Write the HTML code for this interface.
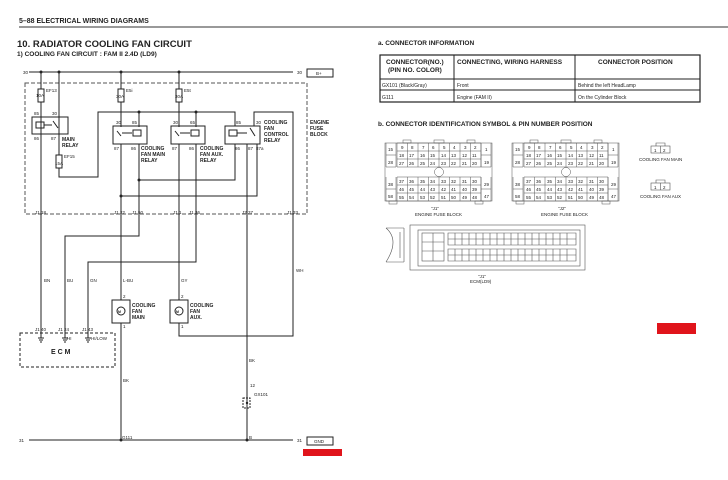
<!DOCTYPE html>
<html><head><meta charset="utf-8"><style>
html,body{margin:0;padding:0;background:#fff}
svg{display:block}
text{font-family:"Liberation Sans",sans-serif;fill:#222}
.b{font-weight:bold}
</style></head><body>
<svg width="728" height="480" viewBox="0 0 728 480" xmlns="http://www.w3.org/2000/svg">
<defs>
<g id="cb" stroke="#555" stroke-width="0.5" fill="none">
<rect x="0" y="3" width="107" height="58"/>
<rect x="18" y="0" width="8" height="3"/><rect x="49" y="0" width="10" height="3"/><rect x="82" y="0" width="8" height="3"/>
<rect x="4" y="61" width="8" height="3"/><rect x="90" y="61" width="8" height="3"/>
<path d="M1 3V27H11V3M96 3V27H106V3M1 15H11M96 15H106M1 37V61H11V37M96 37V61H106V37M1 49H11M96 49H106"/>
<path d="M12 3H96V27H12ZM12 11H96M12 19H96M12 37H96V61H12ZM12 45H96M12 53H96"/>
<path d="M22.5 3V27M33 3V27M43.5 3V27M54 3V27M64.5 3V27M75 3V27M85.5 3V27M22.5 37V61M33 37V61M43.5 37V61M54 37V61M64.5 37V61M75 37V61M85.5 37V61"/>
<circle cx="54" cy="32" r="4.5"/>
<g font-size="4.5" fill="#444" stroke="none">
<text x="3" y="11">15</text><text x="3" y="24">28</text><text x="100" y="11">1</text><text x="99" y="24">19</text>
<text x="3" y="46">38</text><text x="3" y="58">58</text><text x="99" y="46">29</text><text x="99" y="58">47</text>
<text x="16" y="9">9</text><text x="26" y="9">8</text><text x="37" y="9">7</text><text x="47" y="9">6</text><text x="58" y="9">5</text><text x="68" y="9">4</text><text x="79" y="9">3</text><text x="89" y="9">2</text>
<text x="14" y="17">18</text><text x="24" y="17">17</text><text x="35" y="17">16</text><text x="45" y="17">15</text><text x="56" y="17">14</text><text x="66" y="17">13</text><text x="77" y="17">12</text><text x="87" y="17">11</text>
<text x="14" y="25">27</text><text x="24" y="25">26</text><text x="35" y="25">25</text><text x="45" y="25">24</text><text x="56" y="25">23</text><text x="66" y="25">22</text><text x="77" y="25">21</text><text x="87" y="25">20</text>
<text x="14" y="43">37</text><text x="24" y="43">36</text><text x="35" y="43">35</text><text x="45" y="43">34</text><text x="56" y="43">33</text><text x="66" y="43">32</text><text x="77" y="43">31</text><text x="87" y="43">30</text>
<text x="14" y="51">46</text><text x="24" y="51">45</text><text x="35" y="51">44</text><text x="45" y="51">43</text><text x="56" y="51">42</text><text x="66" y="51">41</text><text x="77" y="51">40</text><text x="87" y="51">39</text>
<text x="14" y="59">55</text><text x="24" y="59">54</text><text x="35" y="59">53</text><text x="45" y="59">52</text><text x="56" y="59">51</text><text x="66" y="59">50</text><text x="77" y="59">49</text><text x="87" y="59">48</text>
</g></g>
</defs>

<text x="19" y="23" font-size="7" class="b">5–88  ELECTRICAL WIRING DIAGRAMS</text>
<line x1="19" y1="27" x2="728" y2="27" stroke="#333" stroke-width="1"/>
<text x="17" y="47" font-size="9.5" class="b">10. RADIATOR COOLING FAN CIRCUIT</text>
<text x="17" y="56" font-size="6.5" class="b">1) COOLING FAN CIRCUIT : FAM II 2.4D (LD9)</text>

<g stroke="#222" stroke-width="1" fill="none">
<line x1="29" y1="72" x2="293" y2="72"/>
<rect x="307" y="69" width="26" height="8"/>
<rect x="25" y="83" width="282" height="131" stroke-dasharray="4,2" stroke="#555"/>
<path d="M41 72V330M59 72V125M121 72V127M179 72V127"/>
<rect x="38" y="89" width="6" height="13" fill="#fff"/>
<rect x="118" y="89" width="6" height="13" fill="#fff"/>
<rect x="176" y="89" width="6" height="13" fill="#fff"/>
<rect x="56" y="155" width="6" height="13" fill="#fff"/>
<rect x="32" y="117" width="36" height="17"/>
<rect x="36" y="122" width="8" height="6"/>
<path d="M44 125H52M53 121L58 128M59 125V155M59 168V177H98V112H235V126"/>
<rect x="113" y="126" width="34" height="18"/>
<rect x="133" y="130" width="8" height="6"/>
<path d="M117 131L121 136M122 133H132M139 112V127M139 144V236H65V330M139 180H235V144M121 144V300"/>
<rect x="171" y="126" width="34" height="18"/>
<rect x="191" y="130" width="8" height="6"/>
<path d="M175 131L179 136M180 133H190M196 112V127M196 144V262H88V330M179 144V300"/>
<rect x="225" y="126" width="35" height="18"/>
<rect x="229" y="130" width="8" height="6"/>
<path d="M237 133H247M250 128L255 136M254 126V112H293V336H179V323M247 144V440M121 196H257V144"/>
<path d="M121 323V440"/>
<rect x="112" y="300" width="18" height="23"/>
<circle cx="121" cy="311" r="4"/>
<rect x="170" y="300" width="18" height="23"/>
<circle cx="179" cy="311" r="4"/>
<rect x="20" y="333" width="95" height="34" stroke-dasharray="3,2"/>
<path d="M41 330V338M38 338H44M39 340H43M40 342H42M65 330V338M62 338H68M63 340H67M64 342H66M88 330V338M85 338H91M86 340H90M87 342H89"/>
<rect x="243" y="398" width="7" height="10" stroke-dasharray="2,1"/>
<line x1="29" y1="440" x2="293" y2="440"/>
<rect x="307" y="437" width="26" height="8"/>
</g>
<g fill="#222">
<circle cx="41" cy="72" r="1.5"/><circle cx="59" cy="72" r="1.5"/><circle cx="121" cy="72" r="1.5"/><circle cx="179" cy="72" r="1.5"/>
<circle cx="139" cy="112" r="1.5"/><circle cx="196" cy="112" r="1.5"/><circle cx="139" cy="180" r="1.5"/><circle cx="121" cy="196" r="1.5"/>
<circle cx="121" cy="440" r="1.5"/><circle cx="247" cy="440" r="1.5"/><circle cx="247" cy="403" r="1.2"/>
</g>
<rect x="303" y="449" width="39" height="7" fill="#e0141b"/>

<g font-size="4.5">
<text x="23" y="74">30</text><text x="297" y="74">30</text><text x="316" y="75">B+</text>
<text x="46" y="92">EF13</text><text x="36" y="97">10A</text>
<text x="126" y="92">E5i</text><text x="116" y="98">30A</text>
<text x="184" y="92">E5t</text><text x="175" y="98">30A</text>
<text x="64" y="158">EF15</text><text x="55" y="165">15A</text>
<text x="34" y="115">85</text><text x="52" y="115">30</text><text x="34" y="140">86</text><text x="51" y="140">87</text>
<text x="116" y="124">30</text><text x="132" y="124">85</text><text x="114" y="150">87</text><text x="131" y="150">86</text>
<text x="173" y="124">30</text><text x="190" y="124">65</text><text x="172" y="150">87</text><text x="189" y="150">86</text>
<text x="236" y="124">85</text><text x="256" y="124">30</text><text x="235" y="150">86</text><text x="248" y="150">87</text><text x="256" y="150">87a</text>
<text x="35" y="214">J1 18</text><text x="114" y="214">J1 22</text><text x="132" y="214">J1 50</text><text x="173" y="214">J1 1</text><text x="189" y="214">J1 36</text><text x="242" y="214">J2 37</text><text x="287" y="214">J1 33</text>
<text x="44" y="282">BN</text><text x="67" y="282">BU</text><text x="90" y="282">GN</text><text x="123" y="282">L-BU</text><text x="181" y="282">GY</text><text x="296" y="272">WH</text>
<text x="123" y="298">2</text><text x="123" y="328">1</text><text x="181" y="298">2</text><text x="181" y="328">1</text>
<text x="35" y="331">J1 40</text><text x="58" y="331">J1 24</text><text x="82" y="331">J1 43</text><text x="67" y="340">HI</text><text x="91" y="340">HI/LOW</text>
<text x="249" y="362">BK</text><text x="123" y="382">BK</text>
<text x="250" y="387">12</text><text x="254" y="396">GX101</text>
<text x="19" y="442">31</text><text x="297" y="442">31</text><text x="314" y="443">GND</text>
<text x="122" y="439">G111</text><text x="249" y="439">B</text>
<text x="118" y="313" font-size="3.5" class="b">M</text><text x="176" y="313" font-size="3.5" class="b">M</text>
</g>
<g font-size="5" class="b">
<text x="62" y="141">MAIN</text><text x="62" y="147">RELAY</text>
<text x="141" y="150">COOLING</text><text x="141" y="156">FAN MAIN</text><text x="141" y="162">RELAY</text>
<text x="200" y="150">COOLING</text><text x="200" y="156">FAN AUX.</text><text x="200" y="162">RELAY</text>
<text x="264" y="124">COOLING</text><text x="264" y="130">FAN</text><text x="264" y="136">CONTROL</text><text x="264" y="142">RELAY</text>
<text x="310" y="124">ENGINE</text><text x="310" y="130">FUSE</text><text x="310" y="136">BLOCK</text>
<text x="132" y="307">COOLING</text><text x="132" y="313">FAN</text><text x="132" y="319">MAIN</text>
<text x="190" y="307">COOLING</text><text x="190" y="313">FAN</text><text x="190" y="319">AUX.</text>
</g>
<text x="51" y="354" font-size="7" class="b">E C M</text>

<text x="378" y="45" font-size="6.5" class="b">a. CONNECTOR INFORMATION</text>
<g stroke="#222" fill="none">
<rect x="380" y="55" width="320" height="47" stroke-width="1.2"/>
<path d="M380 79H700M380 90H700M454 55V102M575 55V102" stroke-width="1"/>
</g>
<g font-size="6.5" class="b">
<text x="386" y="64">CONNECTOR(NO.)</text><text x="388" y="72">(PIN NO. COLOR)</text>
<text x="457" y="64">CONNECTING, WIRING HARNESS</text>
<text x="598" y="64">CONNECTOR POSITION</text>
</g>
<g font-size="5">
<text x="382" y="87">GX101 (Black/Gray)</text><text x="457" y="87">Front</text><text x="578" y="87">Behind the left HeadLamp</text>
<text x="382" y="99">G111</text><text x="457" y="99">Engine (FAM II)</text><text x="578" y="99">On the Cylinder Block</text>
</g>
<text x="378" y="126" font-size="6.5" class="b">b. CONNECTOR IDENTIFICATION SYMBOL &amp; PIN NUMBER POSITION</text>
<use href="#cb" x="385" y="140"/>
<use href="#cb" x="512" y="140"/>
<g font-size="4.5" fill="#444">
<text x="431" y="210">"J1"</text><text x="415" y="216">ENGINE FUSE BLOCK</text>
<text x="558" y="210">"J2"</text><text x="541" y="216">ENGINE FUSE BLOCK</text>
<text x="639" y="161">COOLING FAN MAIN</text><text x="640" y="198">COOLING FAN AUX</text>
<text x="478" y="278">"J1"</text><text x="470" y="283">ECM(LD9)</text>
</g>
<g stroke="#555" stroke-width="0.6" fill="none">
<rect x="651" y="146" width="19" height="7"/><path d="M660.5 146V153M656 146V143H665V146"/>
<rect x="651" y="183" width="19" height="7"/><path d="M660.5 183V190M656 183V180H665V183"/>
<path d="M386 228Q400 240 386 262M386 228H404M386 262H404M404 228V262M400 232V258"/>
<rect x="410" y="225" width="175" height="45"/>
<rect x="418" y="230" width="162" height="36"/>
<rect x="422" y="233" width="22" height="28"/>
<path d="M422 242H444M422 251H444M433 233V261"/>
<path d="M448 233H576V245H448ZM448 239H576M448 249H576V261H448ZM448 255H576"/>
<path d="M455 233V245M462 233V245M469 233V245M476 233V245M483 233V245M490 233V245M497 233V245M504 233V245M511 233V245M518 233V245M525 233V245M532 233V245M539 233V245M546 233V245M553 233V245M560 233V245M567 233V245"/>
<path d="M455 249V261M462 249V261M469 249V261M476 249V261M483 249V261M490 249V261M497 249V261M504 249V261M511 249V261M518 249V261M525 249V261M532 249V261M539 249V261M546 249V261M553 249V261M560 249V261M567 249V261"/>
</g>
<g font-size="4.5"><text x="654" y="152">1</text><text x="663" y="152">2</text><text x="654" y="189">1</text><text x="663" y="189">2</text></g>
<rect x="657" y="323" width="39" height="11" fill="#e0141b"/>
</svg>
</body></html>
